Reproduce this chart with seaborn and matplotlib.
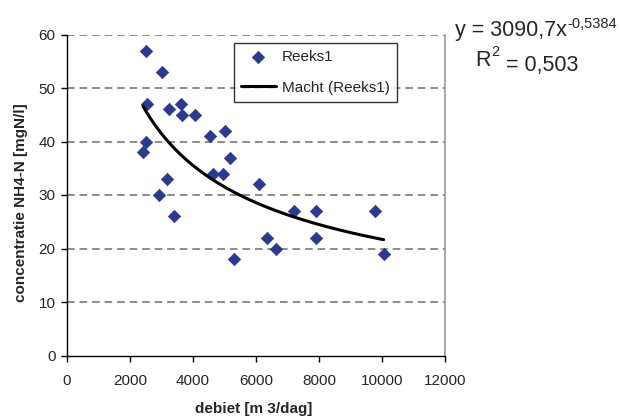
import numpy as np
import pandas as pd
import matplotlib
matplotlib.use("Agg")
import matplotlib.pyplot as plt
import seaborn as sns

# Measured flow rate vs. NH4-N concentration
debiet = [2513, 3030, 2555, 3252, 3612, 3653, 4055, 4551, 5006, 2513, 2418, 5165, 4626,
          4962, 3169, 2915, 3401, 5310, 6080, 7203, 7900, 6347, 6642, 7900, 9759, 10045]
concentratie = [57, 53, 47, 46, 47, 45, 45, 41, 42, 40, 38, 37, 34,
                34, 33, 30, 26, 18, 32, 27, 27, 22, 20, 22, 27, 19]

# Power trendline y = a * x^b
coef_a = 3090.7
coef_b = -0.5384
r2 = 0.503

x_ticks = [0, 2000, 4000, 6000, 8000, 10000, 12000]
y_ticks = [0, 10, 20, 30, 40, 50, 60]

sns.set_style("white")
plt.rcParams["font.family"] = ["Liberation Sans", "DejaVu Sans"]

df = pd.DataFrame({"debiet": debiet, "concentratie": concentratie})
x_fit = np.linspace(min(debiet), max(debiet), 200)
fit = pd.DataFrame({"debiet": x_fit, "concentratie": coef_a * x_fit ** coef_b})

W, H = 622, 418
fig = plt.figure(figsize=(W / 100, H / 100), dpi=100)
ax = fig.add_axes([66.7 / W, 1 - 355.5 / H, (445.3 - 66.7) / W, (355.5 - 34.5) / H])

ax.set_xlim(0, 12000)
ax.set_ylim(0, 60)
ax.set_xticks(x_ticks)
ax.set_yticks(y_ticks)

for yv in y_ticks[1:]:
    ax.axhline(yv, color="#6E6E6E", lw=1.1, ls=(0, (5, 3.2)), zorder=1)

sns.scatterplot(data=df, x="debiet", y="concentratie", ax=ax, marker="D",
                s=40, color="#2B3A8F", edgecolor="#2B3A8F", linewidth=0.5,
                label="Reeks1", zorder=3)
sns.lineplot(data=fit, x="debiet", y="concentratie", ax=ax, color="black",
             lw=2.2, label="Macht (Reeks1)", zorder=4)

for side in ["left", "bottom"]:
    ax.spines[side].set_color("black")
    ax.spines[side].set_linewidth(1)
ax.spines["right"].set_color("#999999")
ax.spines["right"].set_linewidth(1.2)
ax.spines["top"].set_visible(False)

ax.tick_params(axis="both", direction="out", length=4, width=1, color="black",
               labelsize=11, pad=4, left=True, bottom=True)
ax.tick_params(axis="x", pad=9)

ax.set_xlabel("debiet [m 3/dag]", fontsize=11, fontweight="bold")
ax.xaxis.label.set_va("center")
ax.xaxis.set_label_coords(0.494, -0.1667)
ax.set_ylabel("concentratie NH4-N [mgN/l]", fontsize=11, fontweight="bold")
ax.yaxis.label.set_va("center")
ax.yaxis.set_label_coords(-0.1207, 0.475)

leg = ax.legend(loc="upper left", bbox_to_anchor=(0.442, 0.9735), frameon=True,
                fancybox=False, edgecolor="black", fontsize=11,
                handlelength=2.3, borderpad=0.45, labelspacing=1.1,
                handletextpad=0.4, borderaxespad=0)
leg.get_frame().set_linewidth(1)

# Trendline equation and coefficient of determination
eq = fig.text(455 / W, 1 - 35.7 / H, "y = 3090,7x", fontsize=15.5,
              ha="left", va="baseline")
ax.annotate("-0,5384", xy=(1, 0), xycoords=eq, xytext=(0, 9),
            textcoords="offset points", fontsize=10.5, ha="left", va="baseline",
            annotation_clip=False)

r_txt = fig.text(475 / W, 1 - 66.5 / H, "R", fontsize=15.5, ha="left", va="baseline")
ax.annotate("2", xy=(1, 0), xycoords=r_txt, xytext=(0.3, 11),
            textcoords="offset points", fontsize=10.5, ha="left",
            va="baseline", annotation_clip=False)
ax.annotate(" = 0,503", xy=(1, 0), xycoords=r_txt, xytext=(6.5, 0),
            textcoords="offset points", fontsize=15.5, ha="left",
            va="baseline", annotation_clip=False)

fig.savefig("out.png", dpi=100)
